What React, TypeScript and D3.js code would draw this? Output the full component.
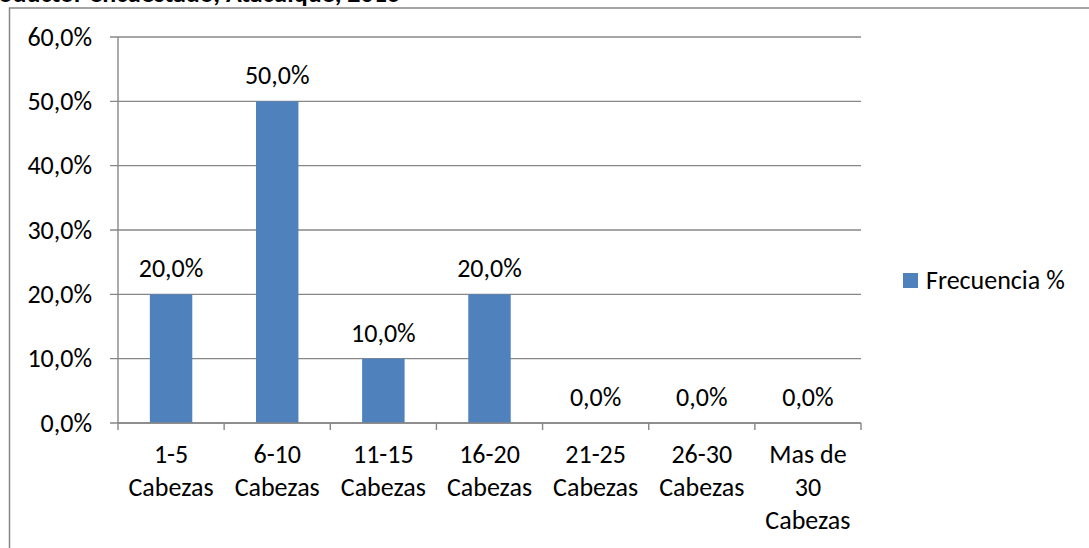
import React from "react";
import * as d3 from "d3";

const categories = [
  "1-5\nCabezas",
  "6-10\nCabezas",
  "11-15\nCabezas",
  "16-20\nCabezas",
  "21-25\nCabezas",
  "26-30\nCabezas",
  "Mas de\n30\nCabezas",
];
const frecuencia = [0.2, 0.5, 0.1, 0.2, 0.0, 0.0, 0.0];
const yTicks = [0, 0.1, 0.2, 0.3, 0.4, 0.5, 0.6];
const seriesName = "Frecuencia %";
const titleText = "Cabezas de ganado por productor encuestado, Atacuique, 2016";

const W = 1089;
const H = 548;
const FONT = "Carlito, Lato, 'Open Sans', sans-serif";
const BAR = "#4F81BD";
const LINE = "#878787";
const FS = 26;

const esLocale = d3.formatLocale({
  decimal: ",",
  thousands: ".",
  grouping: [3],
  currency: ["", "€"],
});
const pct = esLocale.format(".1%");

export default function App() {
  const left = 118;
  const right = 861;
  const top = 37;
  const bottom = 423;

  const y = d3.scaleLinear().domain([0, 0.6]).range([bottom, top]);
  const xBand = d3.scaleBand<string>().domain(categories).range([left, right]).padding(0);
  const xBar = d3
    .scaleBand<string>()
    .domain(categories)
    .range([left, right])
    .paddingInner(0.6)
    .paddingOuter(0.3);

  const boundaries = categories.map((c) => xBand(c) as number).concat([right]);

  return (
    <svg
      width={W}
      height={H}
      style={{ position: "absolute", left: 0, top: 0, background: "#fff" }}
      fontFamily={FONT}
    >
      <text
        x={400}
        y={1.5}
        textAnchor="end"
        fontWeight="bold"
        fontSize={FS}
        fill="#000"
      >
        {titleText}
      </text>
      <rect x={9.5} y={8} width={1200} height={700} fill="none" stroke={LINE} strokeWidth={1.5} />

      {/* gridlines and y ticks */}
      {yTicks.map((t) => (
        <g key={"g" + t}>
          <line x1={110} x2={right} y1={y(t)} y2={y(t)} stroke={LINE} strokeWidth={1.4} />
          <text x={92} y={y(t) + 8.5} textAnchor="end" fontSize={FS} fill="#000">
            {pct(t)}
          </text>
        </g>
      ))}
      {/* y axis */}
      <line x1={left} x2={left} y1={top} y2={bottom} stroke={LINE} strokeWidth={1.4} />
      {/* x ticks */}
      {boundaries.map((bx, i) => (
        <line key={"t" + i} x1={bx} x2={bx} y1={bottom} y2={bottom + 7} stroke={LINE} strokeWidth={1.4} />
      ))}

      {/* bars */}
      {categories.map((c, i) => {
        const v = frecuencia[i];
        const bx = xBar(c) as number;
        const bw = xBar.bandwidth();
        return (
          <g key={"b" + i}>
            {v > 0 && (
              <rect x={bx} y={y(v)} width={bw} height={bottom - y(v)} fill={BAR} />
            )}
            <text
              x={bx + bw / 2}
              y={y(v) - 17}
              textAnchor="middle"
              fontSize={FS}
              fill="#000"
            >
              {pct(v)}
            </text>
          </g>
        );
      })}
      {/* x axis line over bars */}
      <line x1={left} x2={right} y1={bottom} y2={bottom} stroke={LINE} strokeWidth={1.4} />

      {/* category labels */}
      {categories.map((c, i) => {
        const cx = (xBand(c) as number) + xBand.bandwidth() / 2;
        return (
          <text key={"c" + i} x={cx} y={bottom + 40} textAnchor="middle" fontSize={FS} fill="#000">
            {c.split("\n").map((ln, k) => (
              <tspan key={k} x={cx} y={bottom + 40 + k * 33}>
                {ln}
              </tspan>
            ))}
          </text>
        );
      })}

      {/* legend */}
      <rect x={903} y={273} width={15} height={15} fill={BAR} />
      <text x={926} y={289} fontSize={FS} fill="#000">
        {seriesName}
      </text>
    </svg>
  );
}
